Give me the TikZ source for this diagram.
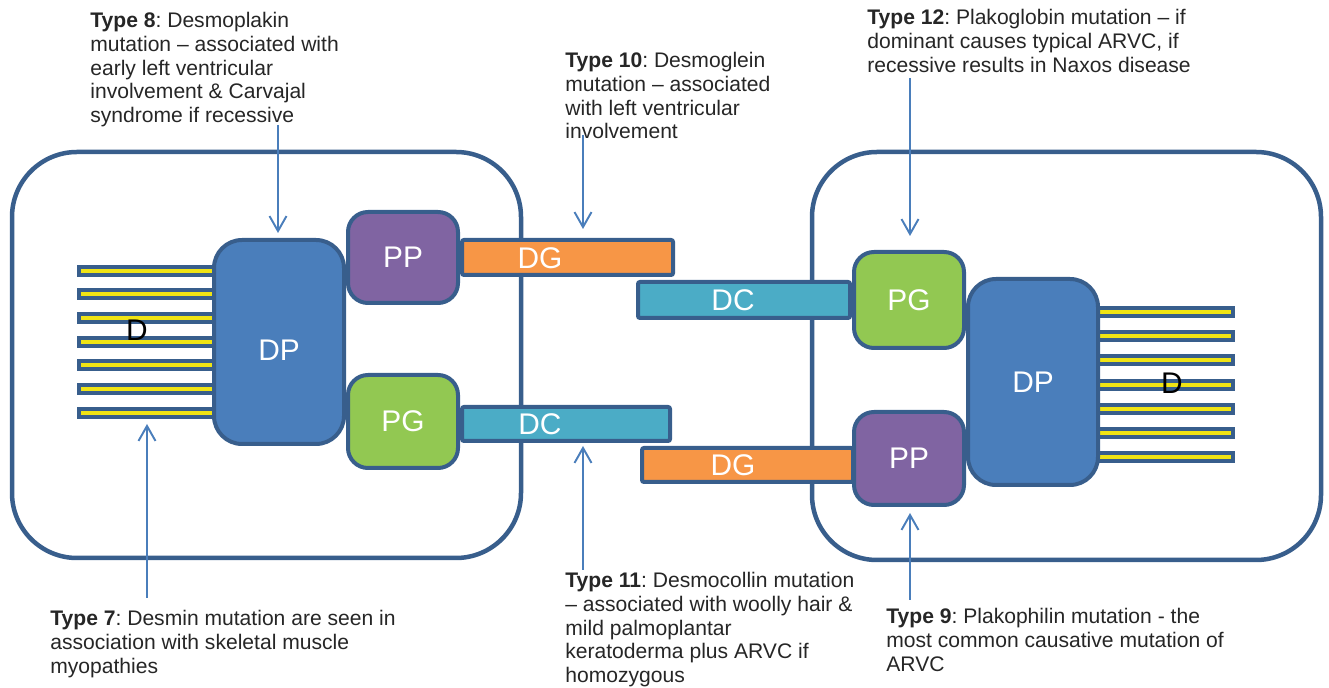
\documentclass[tikz,border=0pt]{standalone}
\usepackage{fontspec}
\setmainfont{Liberation Sans}
\usepackage{tikz}
\usetikzlibrary{positioning, arrows.meta}
\frenchspacing
\newlength\pu
\setlength\pu{0.02cm}
\definecolor{cellline}{RGB}{56,94,140}
\definecolor{dpblue}{RGB}{74,126,187}
\definecolor{pppurple}{RGB}{128,100,162}
\definecolor{pggreen}{RGB}{146,200,82}
\definecolor{dgorange}{RGB}{247,150,70}
\definecolor{dccyan}{RGB}{75,172,198}
\definecolor{filyellow}{RGB}{240,228,20}
\definecolor{arrowblue}{RGB}{74,126,187}

\begin{document}
\begin{tikzpicture}[x=0.02cm, y=-0.02cm,
  cell/.style={draw=cellline, line width=4.5\pu, rounded corners=65\pu},
  prot/.style={draw=cellline, line width=4\pu, rounded corners=20\pu, text=white,
    font=\fontsize{17}{20}\selectfont, minimum width=110\pu, inner sep=0pt},
  dpbox/.style={prot, fill=dpblue, rounded corners=28\pu, minimum width=130\pu},
  bar/.style={draw=cellline, line width=4\pu, rounded corners=2\pu, inner sep=0pt},
  lbl/.style={text=white, font=\fontsize{17}{20}\selectfont, inner sep=0pt},
  note/.style={anchor=north west, align=left, inner sep=0pt, text=black!85,
    font=\fontsize{12}{13.5}\selectfont\frenchspacing},
  arr/.style={draw=arrowblue, line width=1.1pt, -{Straight Barb[length=3mm, width=3.4mm]}},
  fil/.style={draw=cellline, line width=12\pu},
  filin/.style={draw=filyellow, line width=4\pu}]
  \useasboundingbox (0,0) rectangle (1329,688);

  \draw[cell] (12,152) rectangle (521,558);
  \draw[cell] (812,152) rectangle (1321,560);

  \node[bar, fill=dgorange, minimum width=211\pu, minimum height=35\pu] (dgl) at (567.5,257.5) {};
  \node[bar, fill=dccyan, minimum width=212\pu, minimum height=36\pu] (dcr) at (744,300) {};
  \node[bar, fill=dccyan, minimum width=208\pu, minimum height=34\pu] (dcl) at (566,424) {};
  \node[bar, fill=dgorange, minimum width=211\pu, minimum height=34\pu] (dgr) at (747.5,465) {};
  \node[lbl] at (540,258) {DG};
  \node[lbl] at (733,300) {DC};
  \node[lbl] at (540,424) {DC};
  \node[lbl] at (733,465) {DG};

  \node[prot, fill=pppurple, minimum height=91\pu] (ppl) at (403,257.5) {PP};
  \node[prot, fill=pggreen, minimum height=93\pu] (pgl) at (403,421.5) {PG};
  \node[prot, fill=pggreen, minimum height=96\pu] (pgr) at (909,300) {PG};
  \node[prot, fill=pppurple, minimum height=93\pu] (ppr) at (909,458.5) {PP};

  \foreach \i in {0,...,6} {
    \draw[fil] (77,270.7+23.67*\i) -- (214,270.7+23.67*\i);
    \draw[filin] (81,270.7+23.67*\i) -- (214,270.7+23.67*\i);
    \draw[fil] (1096,312+24.2*\i) -- (1235,312+24.2*\i);
    \draw[filin] (1096,312+24.2*\i) -- (1231,312+24.2*\i);
  }
  \node[dpbox, minimum height=204\pu] (dpl) at (279,342) {};
  \node[lbl] at (279,350) {DP};
  \node[dpbox, minimum height=206\pu] (dpr) at (1033,382) {DP};
  \node[lbl, text=black] (dl) at (137,330) {D};
  \node[lbl, text=black] (dr) at (1172,383) {D};

  \node[note] (t8) at (90,12) {\textbf{Type 8}: Desmoplakin\\mutation – associated with\\early left ventricular\\involvement \& Carvajal\\syndrome if recessive};
  \node[note] (t10) at (565,52) {\textbf{Type 10}: Desmoglein\\mutation – associated\\with left ventricular\\involvement};
  \node[note] (t12) at (867,9) {\textbf{Type 12}: Plakoglobin mutation – if\\dominant causes typical ARVC, if\\recessive results in Naxos disease};
  \node[note] (t7) at (50,610) {\textbf{Type 7}: Desmin mutation are seen in\\association with skeletal muscle\\myopathies};
  \node[note] (t11) at (565,572) {\textbf{Type 11}: Desmocollin mutation\\– associated with woolly hair \&\\mild palmoplantar\\keratoderma plus ARVC if\\homozygous};
  \node[note] (t9) at (886,608) {\textbf{Type 9}: Plakophilin mutation - the\\most common causative mutation of\\ARVC};

  \coordinate (a8) at (278,125);  \coordinate (e8) at (278,233);
  \coordinate (a10) at (583,135); \coordinate (e10) at (583,229);
  \coordinate (a12) at (910,78);  \coordinate (e12) at (910,236);
  \coordinate (a7) at (147,598);  \coordinate (e7) at (147,424);
  \coordinate (a11) at (583,570); \coordinate (e11) at (583,446);
  \coordinate (a9) at (910,600);  \coordinate (e9) at (910,513);
  \draw[arr] (a8) -- (e8);
  \draw[arr] (a10) -- (e10);
  \draw[arr] (a12) -- (e12);
  \draw[arr] (a7) -- (e7);
  \draw[arr] (a11) -- (e11);
  \draw[arr] (a9) -- (e9);
\end{tikzpicture}
\end{document}
